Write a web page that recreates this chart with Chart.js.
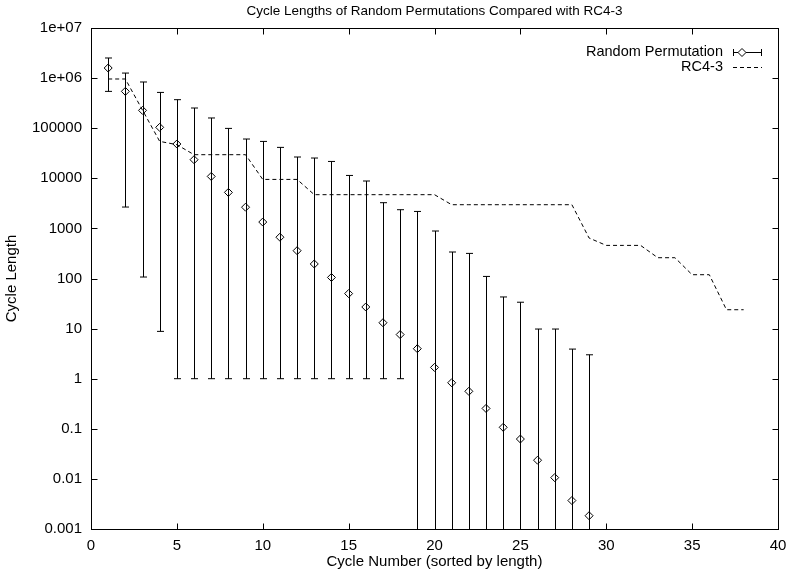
<!DOCTYPE html>
<html>
<head>
<meta charset="utf-8">
<script src="https://cdn.jsdelivr.net/npm/chart.js@4"></script>
<style>
  html, body { margin: 0; padding: 0; background: #fff; }
  #wrap { width: 789px; height: 575px; }
</style>
</head>
<body>
<div id="wrap"><canvas id="cycles"></canvas></div>
<script>
// --- data ---
const randCycle = [1, 2, 3, 4, 5, 6, 7, 8, 9, 10, 11, 12, 13, 14, 15, 16, 17, 18, 19, 20,
                   21, 22, 23, 24, 25, 26, 27, 28, 29];
const randMean = [1.59e6, 5.43e5, 2.27e5, 1.04e5, 48400, 23500, 10900, 5230, 2650, 1340,
                  667, 359, 195, 105, 50, 27, 13.1, 7.6, 3.97, 1.68,
                  0.83, 0.56, 0.255, 0.107, 0.0625, 0.0236, 0.0106, 0.0037, 0.00184];
const randHigh = [2.52e6, 1.26e6, 8.36e5, 5.18e5, 3.71e5, 2.53e5, 1.6e5, 99100, 60800, 54500,
                  41400, 26600, 25400, 21700, 11400, 8830, 3260, 2360, 2180, 887,
                  338, 317, 110, 42.8, 33.6, 9.8, 9.8, 3.9, 3.0];
const randLow = [5.43e5, 2670, 107, 8.8, 1, 1, 1, 1, 1, 1,
                 1, 1, 1, 1, 1, 1, 1, 1, 0, 0,
                 0, 0, 0, 0, 0, 0, 0, 0, 0];

const rc4Cycle = [1, 2, 3, 4, 5, 6, 7, 8, 9, 10, 11, 12, 13, 14, 15, 16, 17, 18, 19, 20,
                  21, 22, 23, 24, 25, 26, 27, 28, 29, 30, 31, 32, 33, 34, 35, 36, 37, 38];
const rc4Len = [9.6e5, 9.6e5, 2.29e5, 54600, 46900, 29600, 29600, 29600, 29600, 9500,
                9500, 9500, 4710, 4710, 4710, 4710, 4710, 4710, 4710, 4710,
                2970, 2970, 2970, 2970, 2970, 2970, 2970, 2970, 643, 458,
                458, 458, 260, 260, 119, 119, 23.8, 23.8];

const xTicks = [0, 5, 10, 15, 20, 25, 30, 35, 40];
const yTicks = [1e-3, 1e-2, 1e-1, 1, 10, 100, 1000, 1e4, 1e5, 1e6, 1e7];
const yTickLabels = ['0.001', '0.01', '0.1', '1', '10', '100', '1000', '10000', '100000', '1e+06', '1e+07'];

const FONT = 'Liberation Sans, Arial, Helvetica, sans-serif';

// error bars under the diamonds
const errorBars = {
    id: 'errorBars',
    beforeDatasetsDraw(chart) {
        const { ctx, chartArea, scales } = chart;
        const xs = scales.x, ys = scales.y;
        ctx.save();
        ctx.beginPath();
        ctx.rect(chartArea.left, chartArea.top, chartArea.right - chartArea.left, chartArea.bottom - chartArea.top);
        ctx.clip();
        ctx.strokeStyle = '#000';
        ctx.lineWidth = 1;
        randCycle.forEach((c, i) => {
            const px = Math.round(xs.getPixelForValue(c)) + 0.5;
            const top = ys.getPixelForValue(randHigh[i]);
            const bot = randLow[i] > 0 ? ys.getPixelForValue(randLow[i]) : chartArea.bottom + 10;
            ctx.beginPath();
            ctx.moveTo(px, top);
            ctx.lineTo(px, bot);
            ctx.moveTo(px - 3.5, top);
            ctx.lineTo(px + 3.5, top);
            ctx.moveTo(px - 3.5, bot);
            ctx.lineTo(px + 3.5, bot);
            ctx.stroke();
        });
        ctx.restore();
    }
};

// frame, mirrored inward ticks, title and legend (gnuplot look)
const frame = {
    id: 'frame',
    afterDraw(chart) {
        const { ctx, chartArea: a, scales } = chart;
        const L = Math.round(a.left) + 0.5, R = Math.round(a.right) + 0.5;
        const T = Math.round(a.top) + 0.5, B = Math.round(a.bottom) + 0.5;
        ctx.save();
        ctx.strokeStyle = '#000';
        ctx.lineWidth = 1;
        ctx.strokeRect(L, T, R - L, B - T);
        ctx.beginPath();
        xTicks.forEach(v => {
            const px = Math.round(scales.x.getPixelForValue(v)) + 0.5;
            ctx.moveTo(px, B); ctx.lineTo(px, B - 6);
            ctx.moveTo(px, T); ctx.lineTo(px, T + 6);
        });
        yTicks.forEach(v => {
            const py = Math.round(scales.y.getPixelForValue(v)) + 0.5;
            ctx.moveTo(L, py); ctx.lineTo(L + 6, py);
            ctx.moveTo(R, py); ctx.lineTo(R - 6, py);
        });
        ctx.stroke();

        ctx.fillStyle = '#000';
        ctx.font = '13.5px ' + FONT;
        ctx.textAlign = 'center';
        ctx.textBaseline = 'middle';
        ctx.fillText('Cycle Lengths of Random Permutations Compared with RC4-3', (a.left + a.right) / 2, 11);

        // legend
        ctx.font = '14.5px ' + FONT;
        ctx.textAlign = 'right';
        ctx.fillText('Random Permutation', 723, 52);
        ctx.fillText('RC4-3', 723, 67);
        ctx.beginPath();
        ctx.moveTo(733, 52.5); ctx.lineTo(762, 52.5);
        ctx.moveTo(733.5, 49); ctx.lineTo(733.5, 56);
        ctx.moveTo(761.5, 49); ctx.lineTo(761.5, 56);
        ctx.stroke();
        ctx.beginPath();
        ctx.moveTo(742, 48.5); ctx.lineTo(746, 52.5); ctx.lineTo(742, 56.5); ctx.lineTo(738, 52.5);
        ctx.closePath();
        ctx.fillStyle = '#fff';
        ctx.fill();
        ctx.stroke();
        ctx.setLineDash([4, 3]);
        ctx.beginPath();
        ctx.moveTo(733, 67.5); ctx.lineTo(762, 67.5);
        ctx.stroke();
        ctx.restore();
    }
};

new Chart(document.getElementById('cycles'), {
    type: 'scatter',
    data: {
        datasets: [
            {
                label: 'RC4-3',
                data: rc4Cycle.map((c, i) => ({ x: c, y: rc4Len[i] })),
                showLine: true,
                borderColor: '#000',
                borderWidth: 1,
                borderDash: [4, 3],
                pointRadius: 0,
                tension: 0
            },
            {
                label: 'Random Permutation',
                data: randCycle.map((c, i) => ({ x: c, y: randMean[i] })),
                showLine: false,
                pointStyle: 'rectRot',
                pointRadius: 4,
                pointBorderWidth: 1,
                borderColor: '#000',
                backgroundColor: 'rgba(0,0,0,0)'
            }
        ]
    },
    options: {
        responsive: true,
        maintainAspectRatio: false,
        animation: false,
        layout: { padding: { top: 28, right: 11, left: 0, bottom: 0 } },
        plugins: {
            legend: { display: false },
            tooltip: { enabled: false },
            title: { display: false }
        },
        scales: {
            x: {
                type: 'linear',
                min: 0,
                max: 40,
                afterBuildTicks: s => { s.ticks = xTicks.map(v => ({ value: v })); },
                afterFit: s => { s.height = 46; s.paddingRight = 0; s.paddingLeft = 0; },
                grid: { display: false, drawTicks: false },
                border: { display: false },
                ticks: { color: '#000', padding: 8, font: { family: FONT, size: 15 } },
                title: {
                    display: true,
                    text: 'Cycle Number (sorted by length)',
                    color: '#000',
                    padding: { top: 0, bottom: 4 },
                    font: { family: FONT, size: 15 }
                }
            },
            y: {
                type: 'logarithmic',
                min: 0.001,
                max: 1e7,
                afterBuildTicks: s => { s.ticks = yTicks.map(v => ({ value: v })); },
                afterFit: s => { s.width = 91; },
                grid: { display: false, drawTicks: false },
                border: { display: false },
                ticks: {
                    color: '#000',
                    padding: 9,
                    font: { family: FONT, size: 15 },
                    callback: (v) => {
                        const i = yTicks.findIndex(t => Math.abs(Math.log10(t) - Math.log10(v)) < 1e-6);
                        return i >= 0 ? yTickLabels[i] : '';
                    }
                },
                title: {
                    display: true,
                    text: 'Cycle Length',
                    color: '#000',
                    padding: { top: 3, bottom: 0 },
                    font: { family: FONT, size: 15 }
                }
            }
        }
    },
    plugins: [errorBars, frame]
});
</script>
</body>
</html>
